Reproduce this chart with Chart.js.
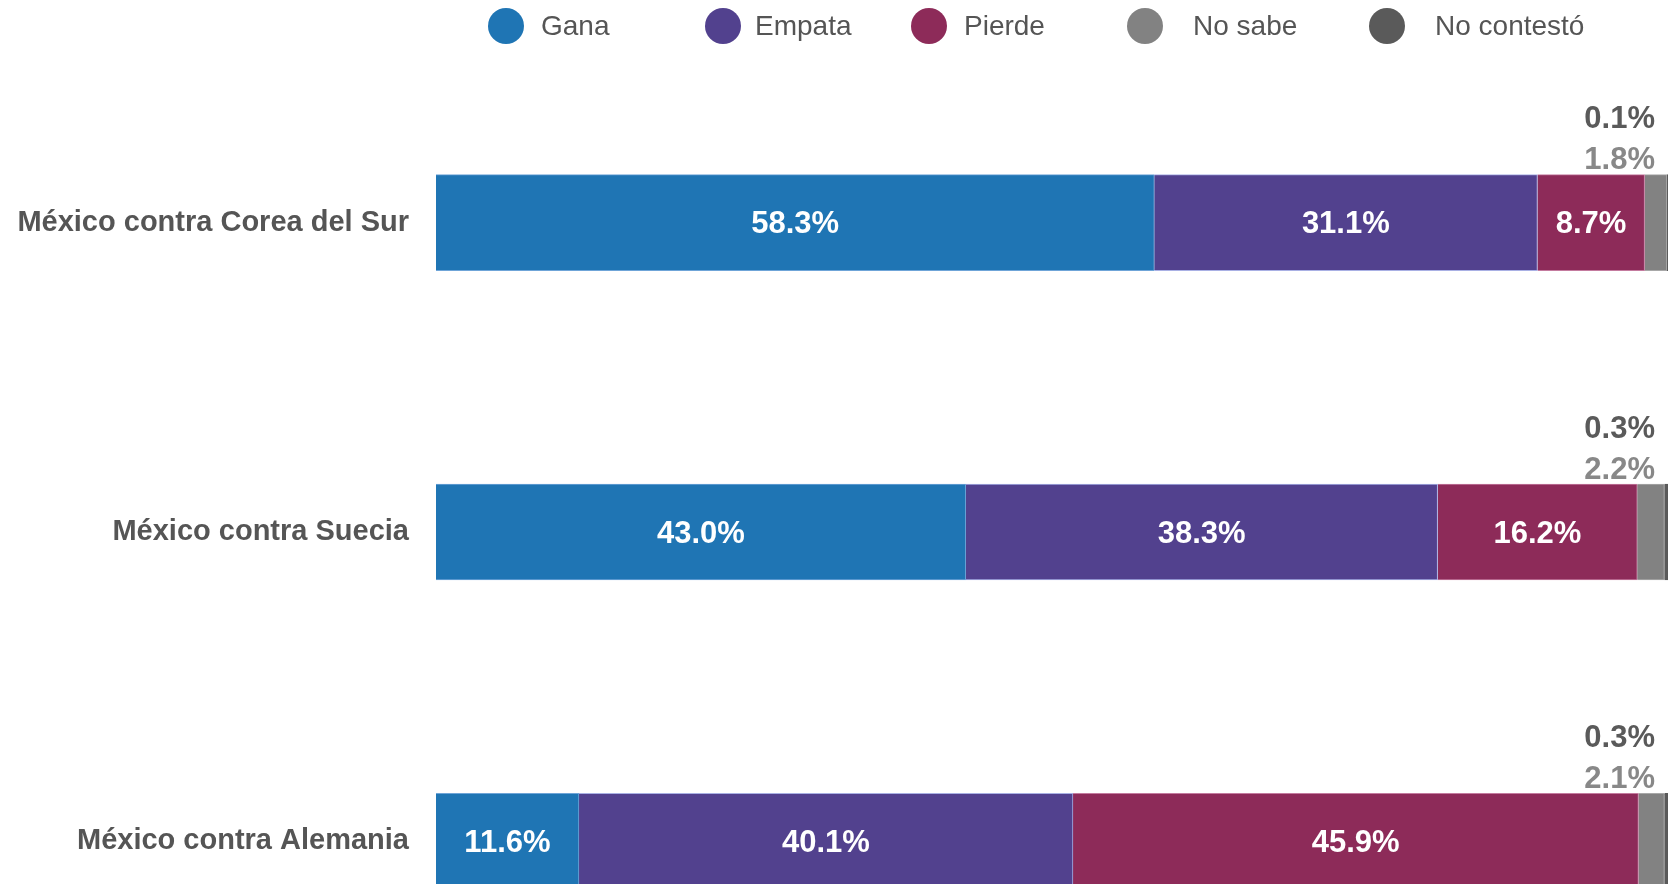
<!DOCTYPE html>
<html lang="es">
<head>
<meta charset="utf-8">
<title>México en el Mundial</title>
<script src="https://cdn.jsdelivr.net/npm/chart.js@4.4.1/dist/chart.umd.min.js"></script>
<style>
  html, body { margin: 0; padding: 0; background: #fff; overflow: hidden; }
  #wrap { position: relative; width: 1673px; height: 884px; overflow: hidden; }
  #legend {
    position: absolute; top: 8px; left: 488px; z-index: 2;
    display: flex; align-items: center;
    font: 28px "Liberation Sans", Arial, sans-serif; color: #555;
  }
  .item { display: flex; align-items: center; }
  .dot { width: 36px; height: 36px; border-radius: 50%; margin-right: 17px; }
  #chart { position: absolute; top: 0; left: 0; }
</style>
</head>
<body>
<div id="wrap">
  <div id="legend"></div>
  <canvas id="chart" width="1673" height="1041"></canvas>
</div>
<script>
const categories = ['México contra Corea del Sur', 'México contra Suecia', 'México contra Alemania'];
const seriesNames = ['Gana', 'Empata', 'Pierde', 'No sabe', 'No contestó'];
const gana = [58.3, 43.0, 11.6];
const empata = [31.1, 38.3, 40.1];
const pierde = [8.7, 16.2, 45.9];
const noSabe = [1.8, 2.2, 2.1];
const noContesto = [0.1, 0.3, 0.3];

const colors = ['#1f75b4', '#52418e', '#8d2b59', '#828282', '#5a5a5a'];
const borders = ['#6fa5d8', '#a9b0e4', '#c47b9f', '#a8a8a8', '#5a5a5a'];
const series = [gana, empata, pierde, noSabe, noContesto];

// legend (html, spacing as in the original)
const legendItemWidth = [217, 206, 216, 242, 0];
const legendTextGap = [17, 14, 17, 30, 30];
const legendEl = document.getElementById('legend');
seriesNames.forEach((name, i) => {
  const item = document.createElement('div');
  item.className = 'item';
  if (legendItemWidth[i]) item.style.width = legendItemWidth[i] + 'px';
  const dot = document.createElement('span');
  dot.className = 'dot';
  dot.style.background = colors[i];
  dot.style.marginRight = legendTextGap[i] + 'px';
  const label = document.createElement('span');
  label.textContent = name;
  item.appendChild(dot);
  item.appendChild(label);
  legendEl.appendChild(item);
});

// percent labels, inside the first three segments, above the bar for the small ones
const valueLabels = {
  id: 'valueLabels',
  afterDatasetsDraw(chart) {
    const ctx = chart.ctx;
    ctx.save();
    ctx.font = 'bold 31px "Liberation Sans", Arial, sans-serif';
    ctx.textBaseline = 'middle';
    chart.data.datasets.forEach((ds, i) => {
      const meta = chart.getDatasetMeta(i);
      meta.data.forEach((bar, j) => {
        const { x, y, base, height } = bar.getProps(['x', 'y', 'base', 'height'], true);
        const text = ds.data[j].toFixed(1) + '%';
        if (i < 3) {
          ctx.fillStyle = '#fff';
          ctx.textAlign = 'center';
          ctx.fillText(text, (x + base) / 2, y + 2);
        } else {
          const top = y - height / 2;
          ctx.fillStyle = i === 3 ? '#888' : '#5a5a5a';
          ctx.textAlign = 'right';
          ctx.fillText(text, chart.chartArea.right - 13, i === 3 ? top - 14 : top - 55);
        }
      });
    });
    ctx.restore();
  }
};

new Chart(document.getElementById('chart'), {
  type: 'bar',
  data: {
    labels: categories,
    datasets: series.map((values, i) => ({
      label: seriesNames[i],
      data: values,
      backgroundColor: colors[i],
      borderColor: borders[i],
      borderWidth: 1,
      barThickness: 96
    }))
  },
  options: {
    indexAxis: 'y',
    responsive: false,
    animation: false,
    layout: { padding: { top: 68, bottom: 45, left: 0, right: 5 } },
    scales: {
      x: { stacked: true, min: 0, max: 100, display: false },
      y: {
        stacked: true,
        grid: { display: false, drawTicks: false },
        border: { display: false },
        ticks: {
          padding: 27,
          color: '#555',
          font: { family: '"Liberation Sans", Arial, sans-serif', size: 29, weight: 'bold' }
        },
        afterFit: (scale) => { scale.width = 436; }
      }
    },
    plugins: {
      legend: { display: false },
      tooltip: { enabled: false }
    }
  },
  plugins: [valueLabels]
});
</script>
</body>
</html>
